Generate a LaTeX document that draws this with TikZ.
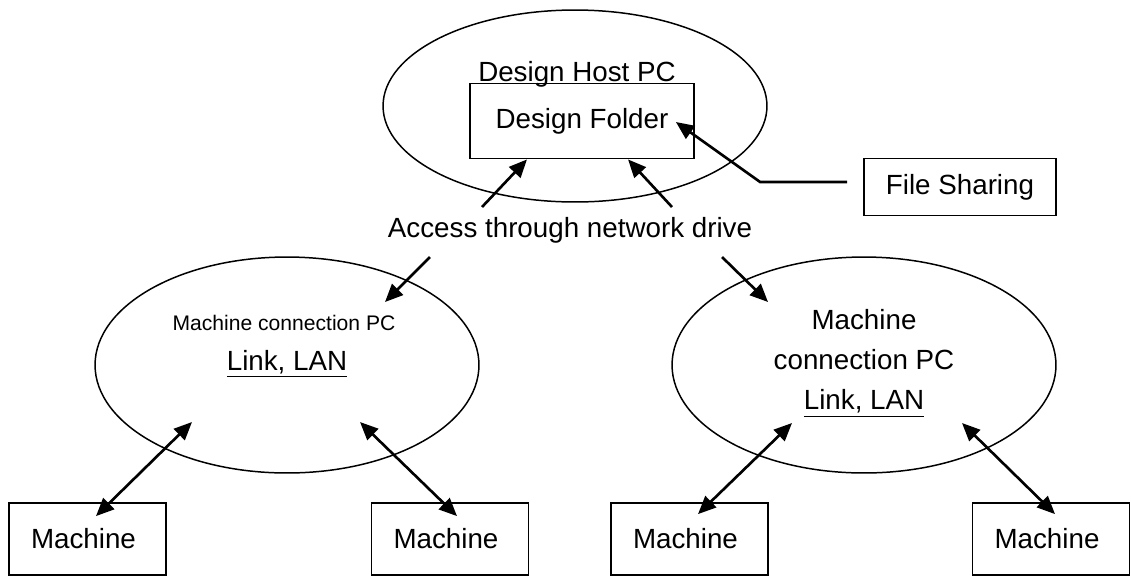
\documentclass[tikz,border=0pt]{standalone}
\usepackage{fontspec}
\setmainfont{Liberation Sans}
\usetikzlibrary{arrows.meta, positioning, shapes.geometric, calc}

\begin{document}
\begin{tikzpicture}[
    x=0.02cm, y=-0.02cm,
    every node/.style={font=\fontsize{15.8}{19}\selectfont},
    pc/.style={ellipse, draw, line width=0.85pt, minimum width=7.68cm, minimum height=4.32cm},
    block/.style={rectangle, draw, line width=1.05pt, minimum width=3.14cm, minimum height=1.44cm},
    machine/.style={block, text width=2.26cm, inner xsep=0.44cm, align=left},
    txt/.style={inner sep=0pt, align=center},
    arrow/.style={-{Triangle[length=3.6mm,width=3.1mm]}, line width=1.5pt},
    dblarrow/.style={{Triangle[length=3.6mm,width=3.1mm]}-{Triangle[length=3.6mm,width=3.1mm]}, line width=1.5pt}
]
\useasboundingbox (0,0) rectangle (1131,582);

% host side
\node[pc, minimum height=3.84cm] (host) at (575,106) {};
\node[txt] (hosttitle) at (577,74) {Design Host PC};
\node[block, minimum width=4.48cm, minimum height=1.5cm] (folder) at (582,121) {Design Folder};
\node[block, minimum width=3.84cm, minimum height=1.14cm] (share) at (960,187) {File Sharing};
\node[txt] (access) at (570,230) {Access through network drive};

% machine connection PCs
\node[pc] (lpc) at (287,365) {};
\node[txt, font=\fontsize{12}{14}\selectfont] (lpctitle) at (284,323) {Machine connection PC};
\node[txt] (lpclink) at (287,364) {\underline{Link, LAN}};
\node[pc] (rpc) at (864,365) {};
\node[txt, font=\fontsize{15.8}{23}\selectfont] (rpctitle) at (864,363) {Machine\\connection PC\\\underline{Link, LAN}};

% machines
\node[machine] (m1) at (87.5,539) {Machine};
\node[machine] (m2) at (450,539) {Machine};
\node[machine] (m3) at (689.5,539) {Machine};
\node[machine] (m4) at (1051,539) {Machine};

\coordinate (up1) at (482,207);
\coordinate (up2) at (672,207);
\coordinate (down1) at (430,257);
\coordinate (down2) at (722,257);

\draw[arrow] (up1) -- ($(folder.south)+(-55,0)$);
\draw[arrow] (up2) -- ($(folder.south)+(46,0)$);
\draw[arrow] ($(share.west)+(-16,-5)$) -- ++(-87,0) -- ($(folder.east)+(-19,1)$);
\draw[arrow] (down1) -- ($(lpc.center)+(98,-63)$);
\draw[arrow] (down2) -- ($(rpc.center)+(-96,-63)$);

\draw[dblarrow] ($(lpc.center)+(-95,57)$) -- ($(m1.north)+(8.5,14)$);
\draw[dblarrow] ($(lpc.center)+(73,57)$) -- ($(m2.north)+(7,14)$);
\draw[dblarrow] ($(rpc.center)+(-72,58)$) -- ($(m3.north)+(8.5,12)$);
\draw[dblarrow] ($(rpc.center)+(98,58)$) -- ($(m4.north)+(4,12)$);
\end{tikzpicture}
\end{document}
